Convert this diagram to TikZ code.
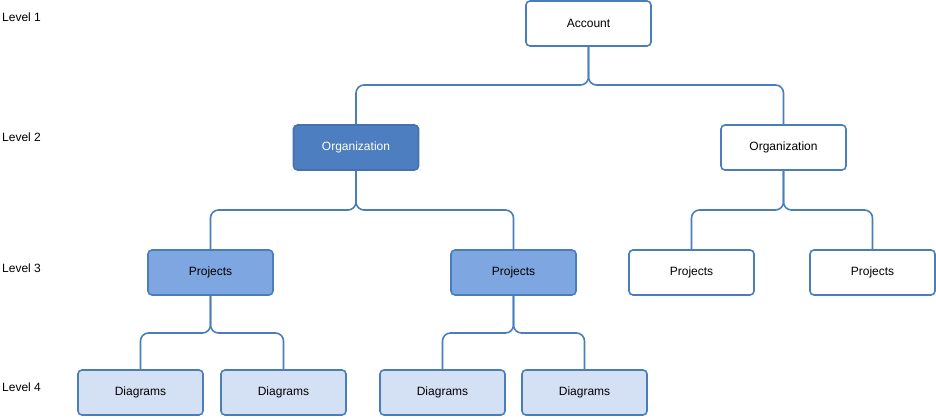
\documentclass[tikz,border=0pt]{standalone}
\usepackage{fontspec}
\setmainfont{Liberation Sans}
\definecolor{edge}{HTML}{4A7EBB}
\definecolor{orgfill}{HTML}{4D7EBF}
\definecolor{projfill}{HTML}{7EA6E0}
\definecolor{diagfill}{HTML}{D4E1F5}
\begin{document}
\begin{tikzpicture}[x=1pt,y=-1pt,
  box/.style={draw=edge,line width=1.6pt,rounded corners=4pt,minimum width=125pt,minimum height=45pt,inner sep=0pt,font=\fontsize{12}{14}\selectfont,fill=white},
  orgbox/.style={box,fill=orgfill,draw=orgfill!90!black,text=white},
  projbox/.style={box,fill=projfill},
  diagbox/.style={box,fill=diagfill},
  conn/.style={draw=edge,line width=1.6pt,rounded corners=8pt},
  lvl/.style={anchor=west,inner sep=0pt,font=\fontsize{12}{14}\selectfont}]
\useasboundingbox (0,0) rectangle (936,419);
\node[lvl] (l1) at (2,17.5) {Level 1};
\node[lvl] (l2) at (2,137.5) {Level 2};
\node[lvl] (l3) at (2,268.5) {Level 3};
\node[lvl] (l4) at (2,387.5) {Level 4};

\node[box] (acc) at (588.5,23.5) {Account};
\node[orgbox] (orgL) at (356,147.5) {Organization};
\node[box] (orgR) at (783.5,147.5) {Organization};
\node[projbox] (p1) at (210.5,272.5) {Projects};
\node[projbox] (p2) at (513.5,272.5) {Projects};
\node[box] (p3) at (691.5,272.5) {Projects};
\node[box] (p4) at (872.5,272.5) {Projects};
\node[diagbox] (d1) at (140.5,392.5) {Diagrams};
\node[diagbox] (d2) at (283.5,392.5) {Diagrams};
\node[diagbox] (d3) at (442.5,392.5) {Diagrams};
\node[diagbox] (d4) at (584.5,392.5) {Diagrams};

\draw[conn] (acc.south) |- (472,85) -| (orgL.north);
\draw[conn] (acc.south) |- (700,85) -| (orgR.north);
\draw[conn] (orgL.south) |- (280,210) -| (p1.north);
\draw[conn] (orgL.south) |- (430,210) -| (p2.north);
\draw[conn] (orgR.south) |- (740,210) -| (p3.north);
\draw[conn] (orgR.south) |- (830,210) -| (p4.north);
\draw[conn] (p1.south) |- (175,333) -| (d1.north);
\draw[conn] (p1.south) |- (250,333) -| (d2.north);
\draw[conn] (p2.south) |- (480,333) -| (d3.north);
\draw[conn] (p2.south) |- (550,333) -| (d4.north);
\end{tikzpicture}
\end{document}
